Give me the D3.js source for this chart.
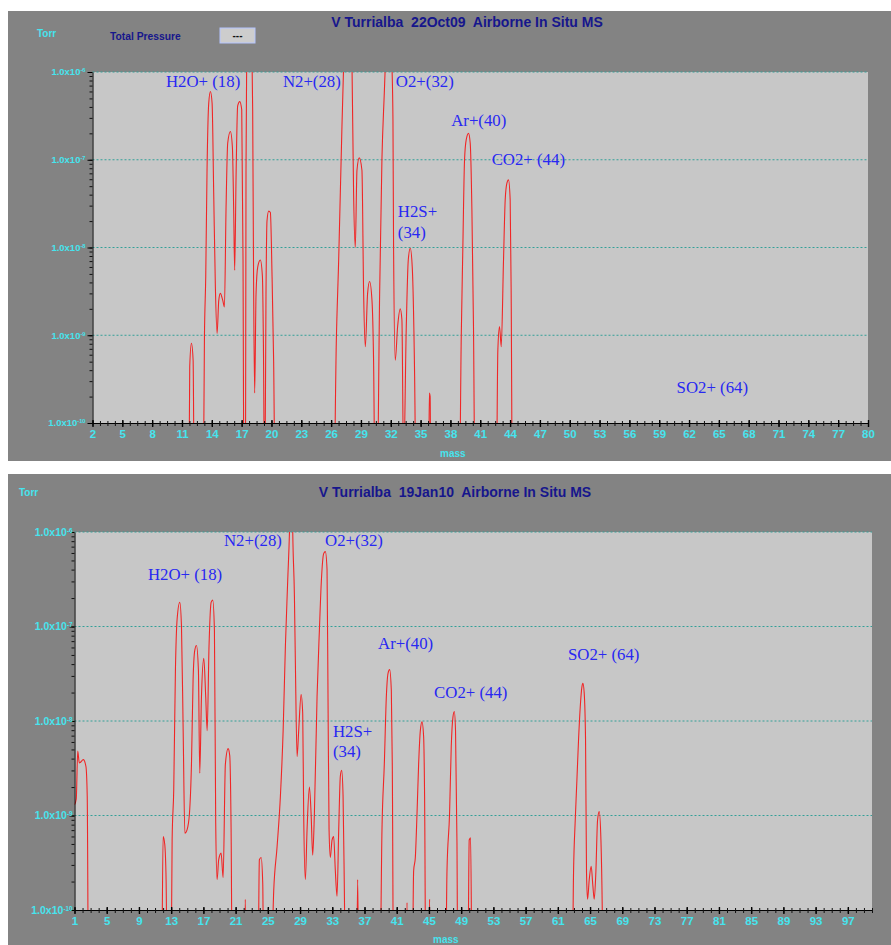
<!DOCTYPE html>
<html>
<head>
<meta charset="utf-8">
<script src="https://cdn.jsdelivr.net/npm/d3@7"></script>
<style>
body { margin: 0; background: #fff; }
</style>
</head>
<body>
<div id="main"></div>
<script>
// trace: [mass, Torr]
var oct09 = [
    [2,1e-11],[11.68,1e-11],[11.78,4.4e-10],[11.95,8.1e-10],[12.12,5.2e-10],[12.25,1e-11],
    [13.12,1e-11],[13.26,9.8e-10],[13.39,4.7e-9],[13.52,7.6e-8],[13.69,4.4e-7],[13.86,6.0e-7],[14.03,4.4e-7],
    [14.19,4.2e-8],[14.36,3.5e-9],[14.53,1.05e-9],[14.7,2.5e-9],[14.86,3.0e-9],[15.1,2.5e-9],[15.27,2.1e-9],
    [15.43,2.7e-8],[15.6,1.55e-7],[15.87,2.1e-7],[16.07,1.4e-7],[16.2,2.7e-8],[16.3,5.5e-9],[16.44,6.5e-8],
    [16.6,4.1e-7],[16.81,4.6e-7],[17.01,3.7e-7],[17.14,7.2e-9],[17.24,1e-11],
    [17.38,1e-11],[17.44,7.6e-8],[17.51,1.2e-6],[17.6,5e-6],[17.95,5e-6],[18.05,1.2e-6],[18.11,3.7e-7],
    [18.21,3.0e-9],[18.31,2.2e-10],[18.45,3.0e-9],[18.62,6.0e-9],[18.88,7.2e-9],[19.09,4.7e-9],[19.19,8.1e-10],
    [19.32,1e-11],[19.45,3.0e-9],[19.55,2.0e-8],[19.72,2.6e-8],[19.89,2.5e-8],[20.06,4.7e-9],[20.22,5e-10],[20.39,1e-11],
    [26.25,1e-11],[26.52,8.1e-10],[26.76,7.2e-9],[27.09,2.4e-7],[27.26,1.2e-6],[27.4,5e-6],[27.95,5e-6],
    [28.1,1.2e-6],[28.26,4.2e-8],[28.43,1.0e-8],[28.6,7.6e-8],[28.83,1.05e-7],[29.1,7.6e-8],[29.27,3.0e-9],
    [29.44,7.4e-10],[29.67,3.0e-9],[29.87,4.1e-9],[30.11,2.5e-9],[30.27,5.2e-10],[30.44,1e-11],
    [30.61,1e-11],[30.88,3.0e-9],[31.11,1.0e-7],[31.35,5.8e-7],[31.45,1.2e-6],[31.6,5e-6],[31.98,5e-6],
    [32.12,1.2e-6],[32.22,2.8e-7],[32.28,1.1e-8],[32.45,5.2e-10],[32.69,1.26e-9],[32.95,2.0e-9],[33.12,1.5e-9],
    [33.29,3e-11],[33.56,1.26e-9],[33.76,7.2e-9],[33.96,9.8e-9],[34.16,6.0e-9],[34.4,3.4e-10],[34.56,1e-11],
    [35.78,1e-11],[35.88,2.2e-10],[35.96,2.0e-10],[36.04,1e-11],
    [38.88,1e-11],[39.09,9.8e-10],[39.25,1.0e-8],[39.42,1.0e-7],[39.59,1.7e-7],[39.82,2.0e-7],[39.99,1.55e-7],
    [40.16,2.7e-8],[40.32,1.26e-9],[40.49,1e-11],
    [42.6,1e-11],[42.77,6.8e-10],[42.94,1.26e-9],[43.11,7.4e-10],[43.34,7.2e-9],[43.51,3.5e-8],[43.68,5.4e-8],
    [43.84,5.9e-8],[44.01,3.5e-8],[44.11,3.0e-9],[44.24,1e-11],
    [80,1e-11]
];

// trace: [mass, Torr]
var jan10 = [
    [1.0,1.3e-9],[1.22,1.5e-9],[1.4,4.8e-9],[1.6,3.6e-9],[2.1,3.9e-9],[2.42,3.3e-9],[2.58,1.6e-9],[2.75,1e-11],
    [11.79,1e-11],[12.0,6.0e-10],[12.2,5.0e-10],[12.37,2.1e-10],[12.55,1e-11],[12.95,1e-11],[13.12,5.5e-10],
    [13.32,1.9e-9],[13.53,3.5e-8],[13.74,1.2e-7],[14.07,1.8e-7],[14.28,1.0e-7],[14.49,7.9e-9],[14.7,6.5e-10],
    [14.98,7.1e-10],[15.27,1.05e-9],[15.52,3.5e-9],[15.72,2.7e-8],[15.93,5.6e-8],[16.14,6.3e-8],[16.38,3.5e-8],
    [16.55,2.8e-9],[16.76,1.8e-8],[17.05,4.6e-8],[17.29,1.8e-8],[17.47,7.9e-9],[17.7,6.2e-8],[17.96,1.8e-7],
    [18.16,1.9e-7],[18.37,9.1e-8],[18.53,8.3e-10],[18.7,2.1e-10],[18.9,3.4e-10],[19.2,4.0e-10],[19.45,2.2e-10],
    [19.73,3.5e-9],[20.07,5.1e-9],[20.27,4.3e-9],[20.44,7.1e-10],[20.6,1e-11],
    [22.05,1e-11],[22.2,1.3e-10],[22.35,1e-11],
    [23.75,1e-11],[23.95,3.4e-10],[24.17,3.6e-10],[24.37,1.9e-10],[24.5,1e-11],
    [25.32,1e-11],[25.73,1.6e-10],[26.15,4.7e-10],[26.56,1.6e-9],[26.9,7.9e-9],[27.18,6.2e-8],[27.47,3.1e-7],
    [27.71,1.2e-6],[27.85,5e-6],[28.0,5e-6],[28.08,1.2e-6],[28.3,2.1e-7],[28.42,4.1e-8],[28.63,4.2e-9],
    [28.83,7.9e-9],[29.13,1.9e-8],[29.33,1.2e-8],[29.45,1.05e-9],[29.66,2.1e-10],[29.87,7.1e-10],[30.16,2.0e-9],
    [30.37,1.05e-9],[30.57,3.8e-10],[30.78,1.05e-9],[31.11,1.8e-8],[31.4,9.1e-8],[31.65,3.1e-7],[31.93,5.9e-7],
    [32.14,6.2e-7],[32.35,4.0e-7],[32.47,1.8e-8],[32.6,7.1e-10],[32.76,3.6e-10],[32.97,5.5e-10],[33.17,6.0e-10],
    [33.38,2.6e-10],[33.59,1.4e-10],[33.8,7.1e-10],[34.0,2.6e-9],[34.17,3.0e-9],[34.34,1.6e-9],[34.5,1.6e-10],[34.66,1e-11],
    [35.99,1e-11],[36.15,2.1e-10],[36.32,1e-11],
    [38.88,1e-11],[39.17,7.1e-10],[39.46,3.5e-9],[39.71,1.8e-8],[39.92,3.2e-8],[40.12,3.5e-8],[40.33,2.1e-8],
    [40.45,3.5e-9],[40.62,1e-11],
    [42.15,1e-11],[42.28,1.2e-10],[42.4,1e-11],
    [42.9,1e-11],[43.1,2.6e-10],[43.31,3.6e-10],[43.52,1.05e-9],[43.72,3.5e-9],[43.93,7.9e-9],[44.14,9.8e-9],
    [44.34,6.8e-9],[44.46,1.6e-9],[44.63,1e-11],
    [44.95,1e-11],[45.08,1.3e-10],[45.2,1e-11],
    [47.03,1e-11],[47.24,2.6e-10],[47.56,1.05e-9],[47.77,5.4e-9],[47.98,1.1e-8],[48.15,1.26e-8],[48.3,7.9e-9],
    [48.48,5.0e-10],[48.6,1e-11],
    [49.8,1e-11],[50.0,5.5e-10],[50.17,5.8e-10],[50.38,1e-11],
    [62.75,1e-11],[62.95,2.5e-10],[63.16,8.9e-10],[63.37,2.4e-9],[63.57,6.3e-9],[63.78,1.4e-8],[63.99,2.3e-8],
    [64.11,2.5e-8],[64.27,2.0e-8],[64.44,6.3e-9],[64.56,2.5e-10],[64.69,1.3e-10],[64.9,2.1e-10],[65.14,2.9e-10],
    [65.35,1.8e-10],[65.52,1.3e-10],[65.72,2.5e-10],[65.93,8.9e-10],[66.14,1.1e-9],[66.35,5.5e-10],[66.51,1.1e-10],
    [66.63,1e-11],
    [100,1e-11]
];

// x tick labels
var oct09Ticks = [2,5,8,11,14,17,20,23,26,29,32,35,38,41,44,47,50,53,56,59,62,65,68,71,74,77,80];
var jan10Ticks = [1,5,9,13,17,21,25,29,33,37,41,45,49,53,57,61,65,69,73,77,81,85,89,93,97];
var decades = [1e-6,1e-7,1e-8,1e-9,1e-10];

// ion annotations: [text, mass, Torr] (left / baseline anchor)
var oct09Notes = [
    ["H2O+ (18)", 9.39, 6.7e-7], ["N2+(28)", 21.15, 6.7e-7], ["O2+(32)", 32.51, 6.7e-7],
    ["Ar+(40)", 38.08, 2.4e-7], ["CO2+ (44)", 42.15, 8.7e-8], ["H2S+\n(34)", 32.71, 2.2e-8],
    ["SO2+ (64)", 60.75, 2.2e-10]
];
var jan10Notes = [
    ["N2+(28)", 19.56, 7.1e-7], ["O2+(32)", 32.1, 7.1e-7], ["H2O+ (18)", 10.12, 3.1e-7],
    ["Ar+(40)", 38.68, 5.8e-8], ["CO2+ (44)", 45.64, 1.75e-8], ["H2S+\n(34)", 33.09, 6.8e-9],
    ["SO2+ (64)", 62.26, 4.4e-8]
];

var ctx = {
    w: 891,
    h: 945,
    RED: "#f02626",
    CYAN: "#46e4ee",
    NAVY: "#16168c",
    BLUE: "#2828f2",
    FRAME: "#838383",
    PLOT: "#c7c7c7",
    GRID: "#34a098",
    SANS: "'Liberation Sans', Arial, sans-serif",
    SERIF: "'Liberation Serif', 'Times New Roman', serif"
};

var panels = [
    {id: "a", y0: 11, h: 450, title: "V Turrialba  22Oct09  Airborne In Situ MS", titleX: 467, titleY: 27,
     torrX: 37, torrY: 37, left: 92.5, right: 868, top: 72, bottom: 423, domain: [2, 80],
     ticks: oct09Ticks, trace: oct09, notes: oct09Notes, ylabSize: 9.5, ylabGap: 7,
     massX: 440, massY: 457, pressure: true},
    {id: "b", y0: 474, h: 480, title: "V Turrialba  19Jan10  Airborne In Situ MS", titleX: 455, titleY: 497,
     torrX: 19, torrY: 496, left: 74.5, right: 872, top: 532, bottom: 910, domain: [1, 100],
     ticks: jan10Ticks, trace: jan10, notes: jan10Notes, ylabSize: 10.5, ylabGap: 2,
     massX: 433, massY: 943, pressure: false}
];

var drawPanel = function(svg, p){
    var g = svg.append("g");
    var x = d3.scaleLinear().domain(p.domain).range([p.left, p.right]);
    var y = d3.scaleLog().domain([1e-10, 1e-6]).range([p.bottom, p.top]);

    g.append("rect").attr("x", 8).attr("y", p.y0).attr("width", ctx.w - 8).attr("height", p.h)
        .attr("fill", ctx.FRAME);
    g.append("rect").attr("x", p.left).attr("y", p.top)
        .attr("width", p.right - p.left).attr("height", p.bottom - p.top)
        .attr("fill", ctx.PLOT);

    // decade grid lines
    g.selectAll(".grid").data(decades.slice(0, 4)).enter().append("line")
        .attr("x1", p.left).attr("x2", p.right)
        .attr("y1", function(d){ return y(d); }).attr("y2", function(d){ return y(d); })
        .style("stroke", ctx.GRID).style("stroke-width", 1).style("stroke-dasharray", "2,2");

    // trace
    g.append("clipPath").attr("id", "clip" + p.id).append("rect")
        .attr("x", p.left).attr("y", p.top)
        .attr("width", p.right - p.left).attr("height", p.bottom - p.top);
    g.append("path").datum(p.trace)
        .attr("clip-path", "url(#clip" + p.id + ")")
        .attr("d", d3.line()
            .x(function(d){ return x(d[0]); })
            .y(function(d){ return y(d[1]); })
            .curve(d3.curveMonotoneX))
        .style("fill", "none").style("stroke", ctx.RED).style("stroke-width", 1.1);

    // x axis: minor ticks (4 per label step) then labelled ticks
    var step = p.ticks[1] - p.ticks[0];
    var minor = [];
    for (var v = p.ticks[0]; v <= p.domain[1] + 1e-9; v += step / 4){ minor.push(v); }
    var xMinor = g.append("g").attr("transform", "translate(0," + p.bottom + ")")
        .call(d3.axisBottom(x).tickValues(minor).tickSize(3).tickSizeOuter(0).tickFormat(""));
    xMinor.selectAll(".tick line").attr("y1", -2).attr("stroke", "#111");
    xMinor.select(".domain").attr("stroke", "#000");
    var xMajor = g.append("g").attr("transform", "translate(0," + p.bottom + ")")
        .call(d3.axisBottom(x).tickValues(p.ticks).tickSize(4).tickSizeOuter(0));
    xMajor.select(".domain").remove();
    xMajor.selectAll(".tick line").attr("y1", -3).attr("stroke", "#000").attr("stroke-width", 1.4);
    xMajor.selectAll("text")
        .attr("fill", ctx.CYAN)
        .style("font-family", ctx.SANS).style("font-weight", "bold").style("font-size", "11.5px");

    // y axis: log minor ticks, decade ticks
    var yMinor = [];
    decades.slice(0, 4).forEach(function(d){
        for (var k = 1; k < 10; k++){ yMinor.push(d / 10 * k); }
    });
    var yAx = g.append("g").attr("transform", "translate(" + p.left + ",0)")
        .call(d3.axisLeft(y).tickValues(yMinor).tickSize(3).tickSizeOuter(0).tickFormat(""));
    yAx.select(".domain").attr("stroke", "#000");
    yAx.selectAll(".tick line").attr("stroke", "#111");
    g.append("g").attr("transform", "translate(" + p.left + ",0)")
        .call(d3.axisLeft(y).tickValues(decades).tickSize(5).tickSizeOuter(0).tickFormat(""))
        .select(".domain").remove();

    var yl = g.selectAll(".ylab").data(decades).enter().append("text")
        .attr("x", p.left - p.ylabGap)
        .attr("y", function(d){ return y(d); })
        .attr("dy", "0.35em")
        .attr("text-anchor", "end")
        .attr("fill", ctx.CYAN)
        .style("font-family", ctx.SANS).style("font-weight", "bold")
        .style("font-size", p.ylabSize + "px");
    yl.append("tspan").text("1.0x10");
    yl.append("tspan").attr("dy", "-0.5em")
        .style("font-size", (p.ylabSize * 0.6) + "px")
        .text(function(d){ return Math.round(Math.log10(d)); });

    // titles and unit labels
    g.append("text").attr("x", p.titleX).attr("y", p.titleY)
        .attr("text-anchor", "middle").attr("fill", ctx.NAVY)
        .style("font-family", ctx.SANS).style("font-weight", "bold").style("font-size", "14px")
        .style("white-space", "pre").text(p.title);
    g.append("text").attr("x", p.torrX).attr("y", p.torrY).attr("fill", ctx.CYAN)
        .style("font-family", ctx.SANS).style("font-weight", "bold").style("font-size", "10px")
        .text("Torr");
    g.append("text").attr("x", p.massX).attr("y", p.massY).attr("fill", ctx.CYAN)
        .style("font-family", ctx.SANS).style("font-weight", "bold").style("font-size", "10px")
        .text("mass");
    if (p.pressure){
        g.append("text").attr("x", 110).attr("y", 40).attr("fill", ctx.NAVY)
            .style("font-family", ctx.SANS).style("font-weight", "bold").style("font-size", "10.3px")
            .text("Total Pressure");
        g.append("rect").attr("x", 220).attr("y", 28).attr("width", 35).attr("height", 15)
            .attr("fill", "#cdcdcd").attr("stroke", "#b4c4ff").attr("stroke-width", 1);
        g.append("text").attr("x", 237.5).attr("y", 39).attr("text-anchor", "middle")
            .attr("fill", "#111").style("font-family", ctx.SANS).style("font-weight", "bold")
            .style("font-size", "10px").text("---");
    }

    // ion annotations
    var notes = g.selectAll(".note").data(p.notes).enter().append("text")
        .attr("x", function(d){ return x(d[1]); })
        .attr("y", function(d){ return y(d[2]); })
        .attr("fill", ctx.BLUE)
        .style("font-family", ctx.SERIF).style("font-size", "16.8px");
    notes.each(function(d){
        var t = d3.select(this);
        d[0].split("\n").forEach(function(line, i){
            t.append("tspan").attr("x", x(d[1])).attr("dy", i ? "1.2em" : 0).text(line);
        });
    });
};

var createViz = function(){
    var svg = d3.select("#main").append("svg")
        .attr("width", ctx.w).attr("height", ctx.h);
    svg.append("rect").attr("width", ctx.w).attr("height", ctx.h).attr("fill", "#fff");
    panels.forEach(function(p){ drawPanel(svg, p); });
};

createViz();
</script>
</body>
</html>
